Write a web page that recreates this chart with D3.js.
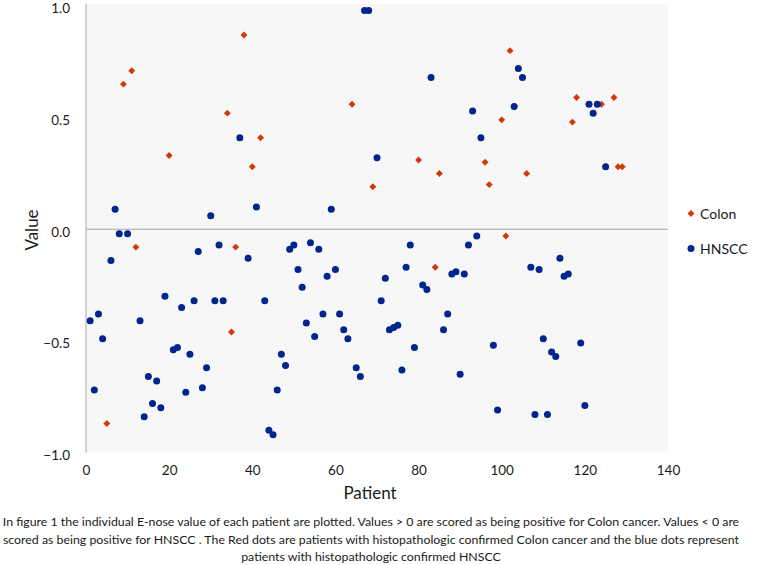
<!DOCTYPE html>
<html><head><meta charset="utf-8">
<script src="https://cdn.jsdelivr.net/npm/d3@7"></script>
<style>html,body{margin:0;padding:0;background:#fff;}svg{display:block;}</style>
</head><body>
<script>
// ---- data ----
const colonX = [5, 9, 11, 12, 20, 34, 35, 36, 38, 40, 42, 64, 69, 80, 84, 85, 96, 97, 100, 101, 102, 106, 117, 118, 124, 127, 128, 129];
const colonY = [-0.87, 0.65, 0.71, -0.08, 0.33, 0.52, -0.46, -0.08, 0.87, 0.28, 0.41, 0.56, 0.19, 0.31, -0.17, 0.25, 0.30, 0.20, 0.49, -0.03, 0.80, 0.25, 0.48, 0.59, 0.56, 0.59, 0.28, 0.28];
const hnsccX = [1, 2, 3, 4, 6, 7, 8, 10, 13, 14, 15, 16, 17, 18, 19, 21, 22, 23, 24, 25, 26, 27, 28, 29, 30, 31, 32, 33, 37, 39, 41, 43, 44, 45, 46, 47, 48, 49, 50, 51, 52, 53, 54, 55, 56, 57, 58, 59, 60, 61, 62, 63, 65, 66, 67, 68, 70, 71, 72, 73, 74, 75, 76, 77, 78, 79, 81, 82, 83, 86, 87, 88, 89, 90, 91, 92, 93, 94, 95, 98, 99, 103, 104, 105, 107, 108, 109, 110, 111, 112, 113, 114, 115, 116, 119, 120, 121, 122, 123, 125];
const hnsccY = [-0.41, -0.72, -0.38, -0.49, -0.14, 0.09, -0.02, -0.02, -0.41, -0.84, -0.66, -0.78, -0.68, -0.80, -0.30, -0.54, -0.53, -0.35, -0.73, -0.56, -0.32, -0.10, -0.71, -0.62, 0.06, -0.32, -0.07, -0.32, 0.41, -0.13, 0.10, -0.32, -0.90, -0.92, -0.72, -0.56, -0.61, -0.09, -0.07, -0.18, -0.26, -0.42, -0.06, -0.48, -0.09, -0.38, -0.21, 0.09, -0.18, -0.38, -0.45, -0.49, -0.62, -0.66, 0.98, 0.98, 0.32, -0.32, -0.22, -0.45, -0.44, -0.43, -0.63, -0.17, -0.07, -0.53, -0.25, -0.27, 0.68, -0.45, -0.38, -0.20, -0.19, -0.65, -0.20, -0.07, 0.53, -0.03, 0.41, -0.52, -0.81, 0.55, 0.72, 0.68, -0.17, -0.83, -0.18, -0.49, -0.83, -0.55, -0.57, -0.13, -0.21, -0.20, -0.51, -0.79, 0.56, 0.52, 0.56, 0.28];
const xTicks = [0, 20, 40, 60, 80, 100, 120, 140];
const yTicks = [-1.0, -0.5, 0.0, 0.5, 1.0];
const seriesNames = ["Colon", "HNSCC"];
const xTitle = "Patient";
const yTitle = "Value";
const captionLines = [
  "In figure 1 the individual E-nose value of each patient are plotted. Values  > 0 are scored as being positive for Colon cancer. Values  < 0 are",
  "scored as being positive for HNSCC . The Red dots are patients with histopathologic confirmed Colon cancer and the blue dots represent",
  "patients with histopathologic confirmed HNSCC"
];

// ---- layout ----
const W = 767, H = 565;
const FONT = "Lato, 'Open Sans', sans-serif";
const RED = "#d0390c", BLUE = "#00258d";
const svg = d3.select("body").append("svg").attr("width", W).attr("height", H);

const x = d3.scaleLinear().domain([0, 140]).range([86, 668]);
const y = d3.scaleLinear().domain([-1, 1]).range([452.5, 6]);

// plot background
svg.append("rect").attr("x", x(0)).attr("y", 4).attr("width", x(140) - x(0)).attr("height", y(-1) - 4)
  .attr("fill", "#f7f7f7");

// zero line
svg.append("line").attr("x1", x(0)).attr("x2", x(140)).attr("y1", y(0)).attr("y2", y(0))
  .attr("stroke", "#a6a6a6").attr("stroke-width", 1);
// y axis line
svg.append("line").attr("x1", x(0)).attr("x2", x(0)).attr("y1", 4).attr("y2", y(-1))
  .attr("stroke", "#a6a6a6").attr("stroke-width", 1);

// y axis tick labels
const yAxis = d3.axisLeft(y).tickValues(yTicks).tickFormat(d3.format(".1f")).tickSize(0).tickPadding(16);
const gy = svg.append("g").attr("transform", `translate(${x(0)},2.5)`).call(yAxis);
gy.select(".domain").remove();
gy.selectAll("text").attr("font-family", FONT).attr("font-size", 13.5).attr("fill", "#1a1a1a");

// x axis tick labels
const xAxis = d3.axisBottom(x).tickValues(xTicks).tickFormat(d3.format("d")).tickSize(0).tickPadding(13);
const gx = svg.append("g").attr("transform", `translate(0,${y(-1)})`).call(xAxis);
gx.select(".domain").remove();
gx.selectAll("text").attr("font-family", FONT).attr("font-size", 13.5).attr("fill", "#1a1a1a");

// axis titles
svg.append("text").attr("x", 370).attr("y", 499).attr("text-anchor", "middle")
  .attr("font-family", FONT).attr("font-size", 17).attr("fill", "#1a1a1a").text(xTitle);
svg.append("text").attr("transform", `translate(38,230) rotate(-90)`).attr("text-anchor", "middle")
  .attr("font-family", FONT).attr("font-size", 17).attr("fill", "#1a1a1a").text(yTitle);

// points (diamond = square rotated 45deg)
const diamond = d3.symbol().type(d3.symbolSquare).size(24);
const colonData = colonX.map((d, i) => ({x: d, y: colonY[i]}));
const hnsccData = hnsccX.map((d, i) => ({x: d, y: hnsccY[i]}));

svg.append("g").selectAll("path").data(colonData).join("path")
  .attr("d", diamond).attr("transform", d => `translate(${x(d.x)},${y(d.y)}) rotate(45)`)
  .attr("fill", RED);
svg.append("g").selectAll("circle").data(hnsccData).join("circle")
  .attr("cx", d => x(d.x)).attr("cy", d => y(d.y)).attr("r", 3.5)
  .attr("fill", BLUE);

// legend
const lg = svg.append("g");
lg.append("path").attr("d", diamond).attr("transform", "translate(691,213.5) rotate(45)").attr("fill", RED);
lg.append("circle").attr("cx", 691).attr("cy", 248.5).attr("r", 3.5).attr("fill", BLUE);
lg.append("text").attr("x", 700).attr("y", 218.5).attr("font-family", FONT).attr("font-size", 14)
  .attr("fill", "#1a1a1a").text(seriesNames[0]);
lg.append("text").attr("x", 700).attr("y", 253.5).attr("font-family", FONT).attr("font-size", 14)
  .attr("fill", "#1a1a1a").text(seriesNames[1]);

// caption
const capY = [526, 543.5, 561];
const cap = svg.append("g");
const t0 = cap.append("text").attr("font-family", FONT).attr("font-size", 12).text(captionLines[0]);
const len0 = t0.node().getComputedTextLength();
t0.remove();
const capSize = 12 * 737 / len0;
captionLines.forEach((line, i) => {
  cap.append("text").attr("x", 371).attr("y", capY[i]).attr("text-anchor", "middle")
    .attr("font-family", FONT).attr("font-size", capSize).attr("fill", "#1a1a1a").text(line);
});
</script>
</body></html>
